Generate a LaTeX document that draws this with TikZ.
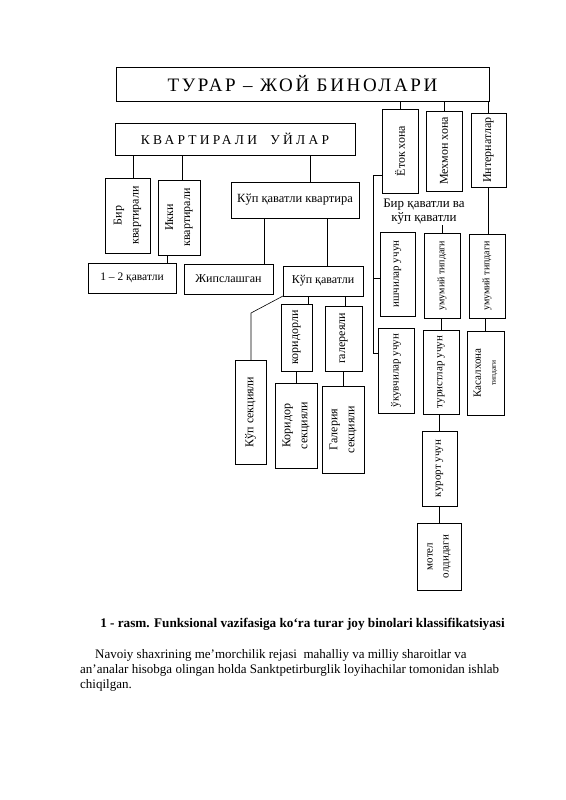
\documentclass[tikz,border=0pt]{standalone}
\usepackage{fontspec}
\setmainfont{Liberation Serif}
\usetikzlibrary{fit}
\begin{document}
\begin{tikzpicture}[x=1pt,y=-1pt,
  box/.style={draw, line width=0.9pt, inner sep=0pt, outer sep=0pt},
  conn/.style={line width=0.6pt},
  vt/.style={rotate=90, align=center, inner sep=0pt, font=\fontsize{12}{17}\selectfont},
  vts/.style={vt, font=\fontsize{11}{14}\selectfont},
  vtx/.style={vt, font=\fontsize{10}{12}\selectfont},
  ht/.style={align=center, inner sep=0pt, font=\fontsize{12}{14}\selectfont}]
\useasboundingbox (0,0) rectangle (565,800);
\fill[white] (0,0) rectangle (565,800);

% top level
\node[box, fit={(116,67)(489,101)}] (tj) {};
\node[inner sep=0pt, font=\fontsize{19}{21}\selectfont\addfontfeature{LetterSpace=14}] (tjt) at (tj.center) {ТУРАР – ЖОЙ БИНОЛАРИ};

\node[box, fit={(115,123)(355,155)}] (kv) {};
\node[inner sep=0pt, font=\fontsize{13.5}{15}\selectfont\addfontfeature{LetterSpace=24}] (kvt) at (kv.center) {КВАРТИРАЛИ\ \ УЙЛАР};

\node[box, fit={(382,109)(418,193)}] (etok) {};
\node[vt] (etokt) at (etok.center) {Ёток хона};
\node[box, fit={(426,111)(462,191)}] (mehmon) {};
\node[vt] (mehmont) at (mehmon.center) {Мехмон хона};
\node[box, fit={(471,113)(506,187)}] (intern) {};
\node[vt] (internt) at (intern.center) {Интернатлар};

\draw[conn] (etok.north) -- (etok.north |- tj.south);
\draw[conn] (mehmon.north) -- (mehmon.north |- tj.south);
\draw[conn] (intern.north) -- (intern.north |- tj.south);

% kvartirali uylar branch
\node[box, fit={(105,178)(150,253)}] (bir) {};
\node[vt] (birt) at (bir.center) {Бир\\квартирали};
\node[box, fit={(158,180)(200,255)}] (ikki) {};
\node[vt] (ikkit) at (ikki.center) {Икки\\квартирали};
\node[box, fit={(231,182)(359,218)}] (kopkv) {};
\node[ht, font=\fontsize{12.5}{14}\selectfont] (kopkvt) at (kopkv.center) {Кўп қаватли квартира};

\draw[conn] (kv.south -| 133,0) -- (bir.north -| 133,0);
\draw[conn] (kv.south -| 182,0) -- (ikki.north -| 182,0);
\draw[conn] (kv.south -| 310,0) -- (kopkv.north -| 310,0);

\node[box, fit={(88,263)(176,293)}] (one2) {};
\node[ht, font=\fontsize{11.5}{13}\selectfont] (one2t) at (one2.center) {1 – 2 қаватли};
\node[box, fit={(184,264)(273,294)}] (jips) {};
\node[ht] (jipst) at (jips.center) {Жипслашган};
\node[box, fit={(283,266)(363,296)}] (kop2) {};
\node[ht] (kop2t) at (kop2.center) {Кўп қаватли};

\draw[conn] (ikki.south -| 167,0) -- (one2.north -| 167,0);
\draw[conn] (kopkv.south -| 264,0) -- (jips.north -| 264,0);
\draw[conn] (kopkv.south -| 327,0) -- (kop2.north -| 327,0);

\node[box, fit={(235,360)(266,464)}] (kopsek) {};
\node[vt] (kopsekt) at (kopsek.center) {Кўп секцияли};
\node[box, fit={(281,304)(312,371)}] (kor) {};
\node[vt] (kort) at (kor.center) {коридорли};
\node[box, fit={(325,306)(362,371)}] (gal) {};
\node[vt] (galt) at (gal.center) {галереяли};
\node[box, fit={(275,383)(317,468)}] (korsek) {};
\node[vt] (korsekt) at (korsek.center) {Коридор\\секцияли};
\node[box, fit={(322,386)(364,473)}] (galsek) {};
\node[vt] (galsekt) at (galsek.center) {Галерия\\секцияли};

\coordinate (bend) at (251,313);
\draw[conn] (kop2.south west) -- (bend) -- (kopsek.north -| bend);
\draw[conn] (kop2.south -| 308,0) -- (kor.north -| 308,0);
\draw[conn] (kop2.south -| 345,0) -- (gal.north -| 345,0);
\draw[conn] (kor.south -| 296,0) -- (korsek.north -| 296,0);
\draw[conn] (gal.south -| 343,0) -- (galsek.north -| 343,0);

% right branch
\node[ht, font=\fontsize{13}{14}\selectfont] (birkop) at (424,212) {Бир қаватли ва\\кўп қаватли};

\node[box, fit={(380,232)(415,316)}] (ishchi) {};
\node[vts] (ishchit) at (ishchi.center) {ишчилар учун};
\node[box, fit={(424,233)(460,318)}] (um1) {};
\node[vtx] (um1t) at (um1.center) {умумий типдаги};
\node[box, fit={(469,234)(505,318)}] (um2) {};
\node[vtx] (um2t) at (um2.center) {умумий типдаги};
\node[box, fit={(378,328)(414,413)}] (ukuv) {};
\node[vts] (ukuvt) at (ukuv.center) {ўкувчилар учун};
\node[box, fit={(423,330)(459,414)}] (turist) {};
\node[vts] (turistt) at (turist.center) {туристлар учун};
\node[box, fit={(467,331)(504,415)}] (kasal) {};
\node[vts, font=\fontsize{11}{15}\selectfont] (kasalt) at (kasal.center) {Касалхона\\{\fontsize{7.5}{9}\selectfont типдаги}};
\node[box, fit={(422,431)(457,506)}] (kurort) {};
\node[vts] (kurortt) at (kurort.center) {курорт учун};
\node[box, fit={(417,523)(461,590)}] (motel) {};
\node[vts, font=\fontsize{11}{16}\selectfont] (motelt) at (motel.center) {мотел\\олдидаги};

\coordinate (e1) at (373,175);
\coordinate (e2) at (373,278);
\coordinate (e3) at (373,353);
\draw[conn] (etok.west |- e1) -- (e1) -- (e3) -- (ukuv.west |- e3);
\draw[conn] (e2) -- (ishchi.west |- e2);
\draw[conn] (um1.north) -- (um1.north |- birkop.south);
\draw[conn] (intern.south) -- (intern.south |- um2.north);
\draw[conn] (turist.north) -- (turist.north |- um1.south);
\draw[conn] (kasal.north) -- (kasal.north |- um2.south);
\draw[conn] (kurort.north) -- (kurort.north |- turist.south);
\draw[conn] (motel.north) -- (motel.north |- kurort.south);

% caption and text
\node[anchor=base, inner sep=0pt, font=\fontsize{13.2}{15}\selectfont\bfseries] (cap) at (302.5,627) {1 - rasm. Funksional vazifasiga ko‘ra turar joy binolari klassifikatsiyasi};
\node[anchor=base west, inner sep=0pt, font=\fontsize{13}{15}\selectfont] (p1) at (95,658) {Navoiy shaxrining me’morchilik rejasi\ \ mahalliy va milliy sharoitlar va};
\node[anchor=base west, inner sep=0pt, font=\fontsize{13}{15}\selectfont] (p2) at (80,673) {an’analar hisobga olingan holda Sanktpetirburglik loyihachilar tomonidan ishlab};
\node[anchor=base west, inner sep=0pt, font=\fontsize{13}{15}\selectfont] (p3) at (80,688) {chiqilgan.};
\end{tikzpicture}
\end{document}
